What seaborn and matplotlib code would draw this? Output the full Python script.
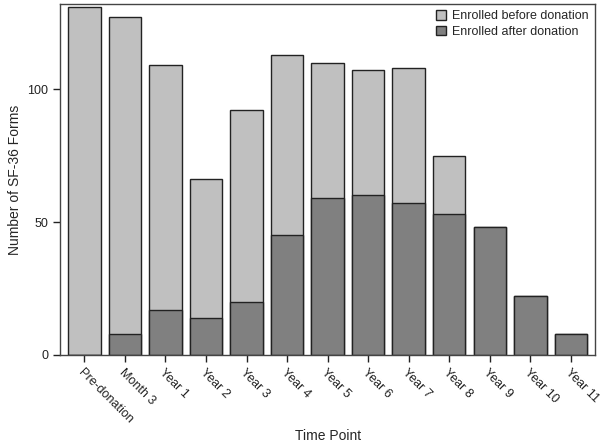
import numpy as np
import pandas as pd
import matplotlib
matplotlib.use("Agg")
import matplotlib.pyplot as plt
import seaborn as sns

# data
time_points = ["Pre-donation", "Month 3", "Year 1", "Year 2", "Year 3", "Year 4",
               "Year 5", "Year 6", "Year 7", "Year 8", "Year 9", "Year 10", "Year 11"]
total_forms = [131, 127, 109, 66, 92, 113, 110, 107, 108, 75, 48, 22, 8]
after_forms = [0, 8, 17, 14, 20, 45, 59, 60, 57, 53, 48, 22, 8]

df = pd.DataFrame({"time": time_points, "total": total_forms, "after": after_forms})

sns.set_style("ticks")
plt.rcParams["font.family"] = ["Liberation Sans", "DejaVu Sans"]

fig = plt.figure(figsize=(6, 4.47), dpi=100)
ax = fig.add_axes([0.1, 0.206, 0.892, 0.785])

# total bar (light) with the after-donation part drawn over it (dark)
sns.barplot(data=df, x="time", y="total", color="#c0c0c0", saturation=1,
            width=0.8, edgecolor="#222222", linewidth=1, ax=ax,
            label="Enrolled before donation")
sns.barplot(data=df, x="time", y="after", color="#808080", saturation=1,
            width=0.8, edgecolor="#222222", linewidth=1, ax=ax,
            label="Enrolled after donation")

ax.set_xlim(-0.6, 12.6)
ax.set_ylim(0, 132)
ax.set_yticks([0, 50, 100])
ax.set_xlabel("Time Point", fontsize=10, labelpad=2)
ax.set_ylabel("Number of SF-36 Forms", fontsize=10)
ax.tick_params(axis="both", direction="out", length=5, width=1, labelsize=9,
               colors="#222222")
plt.setp(ax.get_xticklabels(), rotation=-45, ha="left", rotation_mode="anchor")

for s in ax.spines.values():
    s.set_color("#444444")
    s.set_linewidth(1)

leg = ax.legend(loc="upper right", frameon=False, fontsize=9,
                handlelength=0.8, handleheight=0.8, handletextpad=0.5,
                labelspacing=0.25, borderaxespad=0.1)

fig.savefig("out.png", dpi=100)
